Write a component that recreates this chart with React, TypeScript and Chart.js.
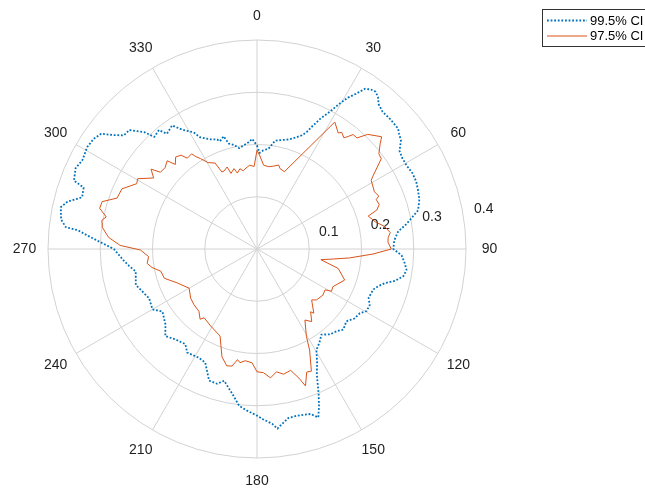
import { useEffect, useRef } from "react";
import { Chart, registerables } from "chart.js";

Chart.register(...registerables);

// Angular resolution of the radar spokes (degrees)
const STEP = 0.5;

const thetaTicks = [0, 30, 60, 90, 120, 150, 180, 210, 240, 270, 300, 330];
const rTicks = [0.1, 0.2, 0.3, 0.4];
const seriesNames = ["99.5% CI", "97.5% CI"];

// 99.5% confidence bound: angle (deg, clockwise from north) and radius
const ci995Theta = [
  0, 1.5, 3.5, 6.5, 9.5, 12, 16, 19.5, 21.5, 23, 24, 25, 26, 28, 29.5, 31, 32.5, 34, 35.5, 37,
  38.5, 40, 42.5, 46, 49.5, 51, 53, 55.5, 58, 61, 64, 67, 70, 73, 76.5, 78.5, 80.5, 83, 86.5, 90,
  92.5, 95.5, 98, 100.5, 103, 105, 107, 109, 113.5, 116.5, 119.5, 122, 125.5, 129, 133, 136, 139.5,
  143, 146.5, 149.5, 152, 154.5, 157, 158.5, 160, 162, 164, 166.5, 169.5, 172, 173.5, 175, 178, 180,
  183.5, 186.5, 189.5, 194, 196.5, 200, 204.5, 208, 214, 217, 222, 226.5, 230.5, 236.5, 240, 245.5,
  253.5, 259.5, 262.5, 265, 270, 273, 274.5, 276, 276.5, 278.5, 282, 284, 286.5, 289.5, 290.5, 294,
  297, 301, 304, 306.5, 308.5, 310.5, 313, 314.5, 316, 317.5, 320.5, 322, 325.5, 328, 331.5, 333,
  337, 340, 341, 343.5, 345, 347.5, 350, 355.5, 357.5,
];
const ci995R = [
  0.198, 0.184, 0.189, 0.193, 0.21, 0.213, 0.218, 0.227, 0.234, 0.243, 0.255, 0.266, 0.278, 0.298,
  0.319, 0.338, 0.352, 0.37, 0.375, 0.377, 0.372, 0.362, 0.356, 0.356, 0.355, 0.35, 0.345, 0.331,
  0.328, 0.328, 0.331, 0.331, 0.328, 0.325, 0.317, 0.303, 0.29, 0.272, 0.263, 0.261, 0.277, 0.284,
  0.289, 0.285, 0.271, 0.253, 0.243, 0.236, 0.233, 0.241, 0.241, 0.232, 0.229, 0.22, 0.226, 0.219,
  0.215, 0.205, 0.216, 0.224, 0.245, 0.266, 0.302, 0.324, 0.343, 0.332, 0.33, 0.328, 0.329, 0.339,
  0.346, 0.336, 0.326, 0.319, 0.31, 0.302, 0.282, 0.26, 0.269, 0.268, 0.239, 0.236, 0.239, 0.228,
  0.233, 0.242, 0.227, 0.217, 0.231, 0.227, 0.242, 0.236, 0.247, 0.256, 0.274, 0.306, 0.325, 0.345,
  0.368, 0.379, 0.384, 0.374, 0.349, 0.352, 0.374, 0.38, 0.375, 0.379, 0.377, 0.371, 0.35, 0.335,
  0.334, 0.322, 0.311, 0.291, 0.295, 0.28, 0.287, 0.269, 0.254, 0.24, 0.228, 0.223, 0.218, 0.225,
  0.209, 0.204, 0.196, 0.205, 0.211,
];

// 97.5% confidence bound
const ci975Theta = [
  0, 1.5, 4.5, 8, 11.5, 14.5, 16, 19.5, 31.5, 35, 36, 38, 39, 40, 42, 44, 48, 49.5, 52, 54, 58, 59,
  64, 66.5, 67.5, 70, 72, 73.5, 77, 80, 83, 85, 87, 90, 92.5, 95.5, 97.5, 99.5, 103.5, 109.5, 116.5,
  119.5, 121, 125, 130.5, 133, 138.5, 139.5, 143, 146, 150.5, 152.5, 156, 158, 160.5, 162, 164.5,
  168, 171, 174, 177, 180, 182.5, 186, 188.5, 190, 192, 194.5, 198, 203, 211, 217.5, 219, 223, 228.5,
  233.5, 240, 247, 252.5, 257, 260, 262.5, 266, 269.5, 271.5, 274.5, 278, 280.5, 282, 284.5, 287,
  290, 294, 298.5, 300.5, 304.5, 307, 308.5, 311.5, 314.5, 316, 318.5, 321, 322.5, 325.5, 326.5,
  328, 330.5, 334, 335.5, 337, 340, 341, 344, 345.5, 348, 350, 351.5, 355, 358,
];
const ci975R = [
  0.189, 0.18, 0.161, 0.159, 0.162, 0.166, 0.16, 0.157, 0.285, 0.271, 0.276, 0.27, 0.277, 0.286,
  0.286, 0.305, 0.321, 0.31, 0.296, 0.294, 0.261, 0.255, 0.25, 0.254, 0.247, 0.249, 0.241, 0.222,
  0.232, 0.248, 0.257, 0.252, 0.251, 0.257, 0.222, 0.178, 0.147, 0.124, 0.16, 0.178, 0.162, 0.164,
  0.152, 0.154, 0.15, 0.143, 0.164, 0.158, 0.174, 0.164, 0.192, 0.218, 0.256, 0.254, 0.278, 0.26,
  0.241, 0.245, 0.238, 0.248, 0.237, 0.235, 0.218, 0.215, 0.22, 0.215, 0.229, 0.231, 0.217, 0.181,
  0.172, 0.166, 0.173, 0.163, 0.161, 0.158, 0.15, 0.166, 0.186, 0.189, 0.204, 0.212, 0.208, 0.223,
  0.262, 0.285, 0.299, 0.302, 0.295, 0.311, 0.31, 0.285, 0.283, 0.262, 0.265, 0.24, 0.254, 0.236,
  0.235, 0.241, 0.225, 0.235, 0.231, 0.219, 0.221, 0.212, 0.204, 0.19, 0.183, 0.162, 0.162, 0.167,
  0.153, 0.16, 0.15, 0.157, 0.152, 0.155, 0.161, 0.158,
];

const BLUE = "#0072BD";
const ORANGE = "#D95319";
const GRID = "#d2d2d2";
const TEXT = "#1f1f1f";
const AXIS_FONT = '14px "Liberation Sans", Arial, Helvetica, sans-serif';
const LEGEND_FONT = '13px "Liberation Sans", Arial, Helvetica, sans-serif';
const BLUE_DASH = [1.8, 1.8];

const spokeCount = Math.round(360 / STEP);
const spokeLabels = Array.from({ length: spokeCount }, (_, i) => String(i * STEP));

// Place each (theta, r) pair on its spoke; other spokes stay empty and are spanned
function onSpokes(theta: number[], r: number[]) {
  const out: (number | null)[] = new Array(spokeCount).fill(null);
  theta.forEach((t, i) => {
    out[Math.round(t / STEP) % spokeCount] = r[i];
  });
  return out;
}

const polarDecor = {
  id: "polarDecor",
  beforeDatasetsDraw(chart: any) {
    const scale = chart.scales.r;
    const ctx = chart.ctx;
    ctx.save();
    ctx.font = AXIS_FONT;
    ctx.fillStyle = TEXT;
    ctx.textAlign = "center";
    ctx.textBaseline = "middle";
    // radius labels run along a spoke just above 90 degrees
    const a = (81.6 * Math.PI) / 180;
    rTicks.forEach((v) => {
      const d = scale.getDistanceFromCenterForValue(v);
      ctx.fillText(String(v), scale.xCenter + d * Math.sin(a) + 20, scale.yCenter - d * Math.cos(a) - 9);
    });
    // angle labels outside the outer ring
    thetaTicks.forEach((t) => {
      const p = scale.getPointPosition(Math.round(t / STEP), scale.drawingArea + 23.5);
      ctx.fillText(String(t), p.x, p.y);
    });
    ctx.restore();
  },
  afterDraw(chart: any) {
    const ctx = chart.ctx;
    ctx.save();
    ctx.fillStyle = "#ffffff";
    ctx.fillRect(542.5, 9.5, 140, 37);
    ctx.strokeStyle = "#333333";
    ctx.lineWidth = 1;
    ctx.strokeRect(542.5, 9.5, 140, 37);
    const rows = [
      { y: 20.5, color: BLUE, dash: BLUE_DASH, width: 1.8 },
      { y: 36, color: ORANGE, dash: [] as number[], width: 1 },
    ];
    rows.forEach((row, i) => {
      ctx.beginPath();
      ctx.setLineDash(row.dash);
      ctx.strokeStyle = row.color;
      ctx.lineWidth = row.width;
      ctx.moveTo(547, row.y);
      ctx.lineTo(587, row.y);
      ctx.stroke();
      ctx.setLineDash([]);
      ctx.font = LEGEND_FONT;
      ctx.fillStyle = "#000000";
      ctx.textAlign = "left";
      ctx.textBaseline = "middle";
      ctx.fillText(seriesNames[i], 590, row.y + 0.5);
    });
    ctx.restore();
  },
};

export default function App() {
  const canvasRef = useRef<HTMLCanvasElement | null>(null);

  useEffect(() => {
    const canvas = canvasRef.current;
    if (!canvas) return;
    const chart = new Chart(canvas, {
      type: "radar",
      data: {
        labels: spokeLabels,
        datasets: [
          {
            label: seriesNames[0],
            data: onSpokes(ci995Theta, ci995R),
            borderColor: BLUE,
            borderWidth: 1.8,
            borderDash: BLUE_DASH,
            borderJoinStyle: "round",
            fill: false,
            spanGaps: true,
            pointRadius: 0,
          },
          {
            label: seriesNames[1],
            data: onSpokes(ci975Theta, ci975R),
            borderColor: ORANGE,
            borderWidth: 1,
            borderJoinStyle: "round",
            fill: false,
            spanGaps: true,
            pointRadius: 0,
          },
        ],
      },
      options: {
        responsive: false,
        animation: false,
        events: [],
        layout: { padding: { left: 48, top: 40, right: 179, bottom: 33 } },
        plugins: { legend: { display: false }, tooltip: { enabled: false } },
        elements: { line: { tension: 0 }, point: { radius: 0 } },
        scales: {
          r: {
            min: 0,
            max: 0.4,
            startAngle: 0,
            ticks: { display: false, stepSize: 0.1 },
            grid: { circular: true, color: GRID, lineWidth: 1 },
            angleLines: {
              color: GRID,
              lineWidth: (c: any) => (c.index % Math.round(30 / STEP) === 0 ? 1 : 0),
            },
            pointLabels: { display: false },
          },
        },
      },
      plugins: [polarDecor],
    } as any);
    return () => chart.destroy();
  }, []);

  return (
    <div style={{ position: "absolute", left: 0, top: 0, width: 645, height: 491, background: "#fff" }}>
      <canvas ref={canvasRef} width={645} height={491} style={{ display: "block" }} />
    </div>
  );
}
